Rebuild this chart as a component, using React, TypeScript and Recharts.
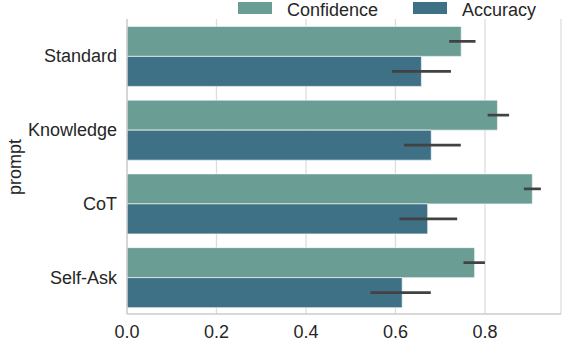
import { BarChart, Bar, XAxis, YAxis, CartesianGrid, ErrorBar } from "recharts";

const prompts = ["Standard", "Knowledge", "CoT", "Self-Ask"];
const confidence = [0.747, 0.828, 0.906, 0.777];
const confidenceLow = [0.72, 0.806, 0.887, 0.752];
const confidenceHigh = [0.779, 0.854, 0.925, 0.8];
const accuracy = [0.658, 0.68, 0.672, 0.615];
const accuracyLow = [0.592, 0.619, 0.609, 0.544];
const accuracyHigh = [0.724, 0.746, 0.738, 0.679];
const xTicks = [0, 0.2, 0.4, 0.6, 0.8];

const CONF_COLOR = "#6a9e94";
const ACC_COLOR = "#3e7186";
const TEXT = "#262626";
const FONT = "'Liberation Sans', Arial, sans-serif";
const FS = 18;

const data = prompts.map((p, i) => ({
  prompt: p,
  confidence: confidence[i],
  confErr: [confidence[i] - confidenceLow[i], confidenceHigh[i] - confidence[i]],
  accuracy: accuracy[i],
  accErr: [accuracy[i] - accuracyLow[i], accuracyHigh[i] - accuracy[i]]
}));

// legend sits over the chart, the plot area keeps its own margins
function LegendBox() {
  return (
    <svg width={568} height={22} style={{ position: "absolute", left: 0, top: 0, display: "block" }}>
      <rect x={238} y={2} width={34} height={12} fill={CONF_COLOR} />
      <text x={287} y={15.5} fontSize={FS} fill={TEXT} fontFamily={FONT}>
        Confidence
      </text>
      <rect x={413} y={2} width={34} height={12} fill={ACC_COLOR} />
      <text x={462} y={15.5} fontSize={FS} fill={TEXT} fontFamily={FONT}>
        Accuracy
      </text>
    </svg>
  );
}

function PromptLabel() {
  return (
    <text
      x={21}
      y={167}
      transform="rotate(-90, 21, 167)"
      textAnchor="middle"
      fontSize={FS}
      fill={TEXT}
      fontFamily={FONT}
    >
      prompt
    </text>
  );
}

export default function App() {
  return (
    <div style={{ position: "absolute", left: 0, top: 0, width: 568, height: 341, background: "#fff", fontFamily: FONT }}>
      <BarChart
        layout="vertical"
        width={568}
        height={341}
        data={data}
        margin={{ top: 19, right: 7, bottom: 0, left: 0 }}
        barGap={0}
        barCategoryGap="10%"
        style={{ fontFamily: FONT }}
      >
        <CartesianGrid horizontal={false} stroke="#dddddd" strokeWidth={1.3} />
        <XAxis
          type="number"
          domain={[0, 0.97]}
          ticks={xTicks}
          allowDataOverflow
          tickFormatter={(v: number) => v.toFixed(1)}
          axisLine={{ stroke: "#cccccc", strokeWidth: 1.3 }}
          tickLine={false}
          tickMargin={5}
          tick={{ fill: TEXT, fontSize: FS }}
          height={27}
        />
        <YAxis
          type="category"
          dataKey="prompt"
          width={127}
          axisLine={{ stroke: "#cccccc", strokeWidth: 1.3 }}
          tickLine={false}
          tickMargin={4}
          tick={{ fill: TEXT, fontSize: FS }}
          label={<PromptLabel />}
        />
        <Bar dataKey="confidence" name="Confidence" fill={CONF_COLOR} stroke="#ffffff" strokeOpacity={0.6} strokeWidth={1} isAnimationActive={false}>
          <ErrorBar dataKey="confErr" direction="x" width={0} stroke="#424242" strokeWidth={2.7} isAnimationActive={false} />
        </Bar>
        <Bar dataKey="accuracy" name="Accuracy" fill={ACC_COLOR} stroke="#ffffff" strokeOpacity={0.6} strokeWidth={1} isAnimationActive={false}>
          <ErrorBar dataKey="accErr" direction="x" width={0} stroke="#424242" strokeWidth={2.7} isAnimationActive={false} />
        </Bar>
      </BarChart>
      <LegendBox />
    </div>
  );
}
